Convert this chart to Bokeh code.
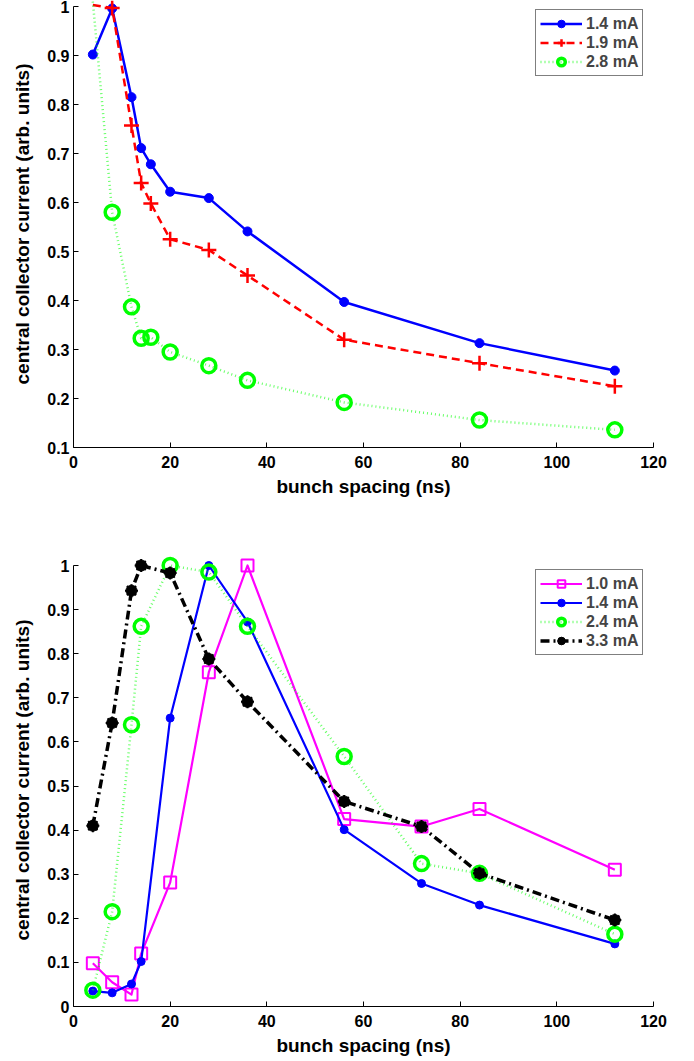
from bokeh.plotting import figure
from bokeh.layouts import column
from bokeh.models import FixedTicker, Legend, LegendItem, Range1d
from bokeh.embed import file_html
from bokeh.resources import INLINE

# ---------------- data ----------------
x_top = [4, 8, 12, 14, 16, 20, 28, 36, 56, 84, 112]
top_14 = [0.902, 0.996, 0.815, 0.711, 0.678, 0.622, 0.609, 0.541, 0.397, 0.313, 0.257]
top_19 = [1.003, 0.997, 0.757, 0.640, 0.598, 0.525, 0.503, 0.451, 0.320, 0.272, 0.225]
top_28 = [1.01, 0.580, 0.387, 0.323, 0.325, 0.295, 0.267, 0.237, 0.192, 0.156, 0.136]
top_labels = ["1.4 mA", "1.9 mA", "2.8 mA"]

x_bot = [4, 8, 12, 14, 20, 28, 36, 56, 72, 84, 112]
bot_10 = [0.098, 0.055, 0.027, 0.120, 0.281, 0.758, 1.0, 0.425, 0.408, 0.448, 0.310]
bot_14 = [0.035, 0.031, 0.051, 0.102, 0.654, 1.0, 0.872, 0.401, 0.279, 0.230, 0.142]
bot_24 = [0.037, 0.215, 0.639, 0.862, 1.0, 0.985, 0.862, 0.567, 0.324, 0.302, 0.164]
bot_33 = [0.410, 0.643, 0.943, 1.0, 0.983, 0.788, 0.691, 0.465, 0.408, 0.302, 0.196]
bot_labels = ["1.0 mA", "1.4 mA", "2.4 mA", "3.3 mA"]

x_ticks = [0, 20, 40, 60, 80, 100, 120]
y_ticks_top = [0.1, 0.2, 0.3, 0.4, 0.5, 0.6, 0.7, 0.8, 0.9, 1.0]
y_ticks_bot = [0.0, 0.1, 0.2, 0.3, 0.4, 0.5, 0.6, 0.7, 0.8, 0.9, 1.0]

FONT = "Liberation Sans"
BLUE, RED, GREEN, MAGENTA, BLACK = "#0000ff", "#ff0000", "#00ff00", "#ff00ff", "#000000"


def fmt(t):
    s = "%.1f" % t
    return s[:-2] if s.endswith(".0") else s


def make_fig(height, ymin, ymax, headroom_px, axis_px, yticks, mb_top, mb_bottom):
    # extend the range a few pixels above ymax so markers at ymax are not cut,
    # while the axis itself stops at ymax (as in the original figure)
    yend = ymax + headroom_px * (ymax - ymin) / axis_px
    p = figure(width=673, height=height, output_backend="svg", toolbar_location=None,
               x_range=Range1d(0, 120), y_range=Range1d(ymin, yend),
               min_border_left=73, min_border_right=20,
               min_border_top=mb_top, min_border_bottom=mb_bottom)
    p.outline_line_color = None
    p.xgrid.visible = False
    p.ygrid.visible = False
    p.xaxis.ticker = FixedTicker(ticks=x_ticks)
    p.yaxis.ticker = FixedTicker(ticks=yticks)
    p.yaxis.bounds = (ymin, ymax)
    p.xaxis.major_label_overrides = {t: fmt(t) for t in x_ticks}
    p.yaxis.major_label_overrides = {t: fmt(t) for t in yticks}
    p.xaxis.axis_label = "bunch spacing (ns)"
    p.yaxis.axis_label = "central collector current (arb. units)"
    for ax in (p.xaxis[0], p.yaxis[0]):
        ax.major_tick_in = 5
        ax.major_tick_out = 0
        ax.minor_tick_line_color = None
        ax.axis_line_color = "black"
        ax.major_tick_line_color = "black"
        ax.major_label_text_font = FONT
        ax.major_label_text_font_style = "bold"
        ax.major_label_text_font_size = "16px"
        ax.major_label_text_color = "black"
        ax.axis_label_text_font = FONT
        ax.axis_label_text_font_style = "bold"
        ax.axis_label_text_font_size = "19px"
        ax.axis_label_text_color = "black"
    p.xaxis.major_label_standoff = 8
    p.xaxis.axis_label_standoff = 5
    p.yaxis.major_label_standoff = 4
    p.yaxis.axis_label_standoff = 11
    return p


def series(p, x, y, ymax, color, dash, lw, marker, msize, mlw, fill, alpha=1.0):
    rs = [p.line(x, y, line_color=color, line_width=lw, line_dash=dash, line_join="round",
                 line_alpha=alpha)]
    xs = [a for a, b in zip(x, y) if b <= ymax]
    ys = [b for b in y if b <= ymax]
    if isinstance(marker, str):
        marker = [(marker, msize, mlw, fill)]
    for mk, sz, w, f in marker:
        rs.append(p.scatter(xs, ys, marker=mk, size=sz, line_color=color, line_width=w,
                            fill_color=f))
    return rs


def style_legend(leg):
    leg.border_line_color = "black"
    leg.border_line_width = 1
    leg.background_fill_color = "white"
    leg.background_fill_alpha = 1
    leg.label_text_font = FONT
    leg.label_text_font_style = "bold"
    leg.label_text_font_size = "16px"
    leg.glyph_width = 42
    leg.glyph_height = 19
    leg.label_height = 19
    leg.spacing = 0
    leg.padding = 4
    leg.label_standoff = 4


# ---------------- top panel ----------------
# frame: 447 px tall, value 1 sits 6 px below its top
p1 = make_fig(510, 0.1, 1.0, 6, 441, y_ticks_top, 0, 63)
r14 = series(p1, x_top, top_14, 1.0, BLUE, "solid", 2.5, "circle", 9, 1, BLUE)
r19 = series(p1, x_top, top_19, 1.0, RED, "8 5", 2.5, "cross", 15, 2.5, None)
r28 = series(p1, x_top, top_28, 1.0, GREEN, "1 3", 2.5, "circle", 14, 3.5, None, 0.6)
leg1 = Legend(items=[LegendItem(label=top_labels[0], renderers=r14),
                     LegendItem(label=top_labels[1], renderers=r19),
                     LegendItem(label=top_labels[2], renderers=r28)],
              location=(462, 371))
style_legend(leg1)
p1.add_layout(leg1)

# ---------------- bottom panel ----------------
p2 = make_fig(550, 0.0, 1.0, 12, 441, y_ticks_bot, 43, 54)
b10 = series(p2, x_bot, bot_10, 1.0, MAGENTA, "solid", 2.2, "square", 12, 2, None)
b14 = series(p2, x_bot, bot_14, 1.0, BLUE, "solid", 2.2, "circle", 8, 1, BLUE)
b24 = series(p2, x_bot, bot_24, 1.0, GREEN, "1 3", 2.5, "circle", 14, 3.5, None, 0.6)
b33 = series(p2, x_bot, bot_33, 1.0, BLACK, "9 4 2 4", 3.5,
             [("circle", 11, 1, BLACK), ("asterisk", 13, 2, BLACK)], None, None, None)
leg2 = Legend(items=[LegendItem(label=bot_labels[0], renderers=b10),
                     LegendItem(label=bot_labels[1], renderers=b14),
                     LegendItem(label=bot_labels[2], renderers=b24),
                     LegendItem(label=bot_labels[3], renderers=b33)],
              location=(462, 351))
style_legend(leg2)
p2.add_layout(leg2)

layout = column(p1, p2, spacing=0)
open("out.html", "w").write(file_html(layout, INLINE))
